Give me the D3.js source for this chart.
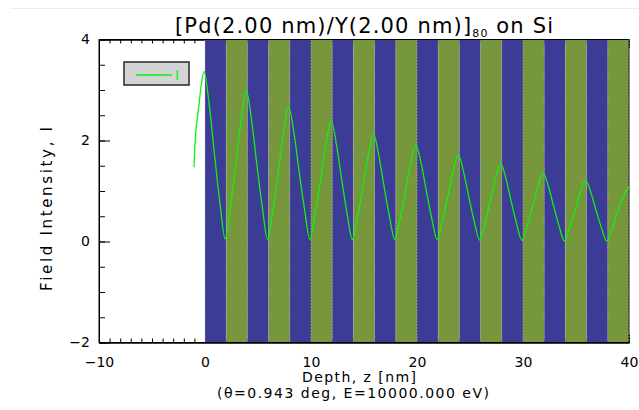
<!DOCTYPE html>
<html>
<head>
<meta charset="utf-8">
<script src="https://cdn.jsdelivr.net/npm/d3@7"></script>
<style>
  body { margin: 0; background: #fff; }
  svg { display: block; font-family: "DejaVu Sans", sans-serif; }
</style>
</head>
<body>
<svg id="chart"></svg>
<script>
var width = 639;
var height = 410;

// layer stack: alternating Pd / Y layers, 2 nm each
var layerNames = ["Pd", "Y"];
var layerThickness = [2.0, 2.0];
var stackDepth = 40;
var layerColor = { "Pd": "#3c3b96", "Y": "#77973c" };

// field intensity
var depthNm = [-1.04, -0.95, -0.6, -0.35, -0.1,
    0.4, 0.9, 1.4, 1.9, 2.4, 2.9, 3.4, 3.9,
    4.4, 4.9, 5.4, 5.9, 6.4, 6.9, 7.4, 7.9,
    8.4, 8.9, 9.4, 9.9, 10.4, 10.9, 11.4, 11.9,
    12.4, 12.9, 13.4, 13.9, 14.4, 14.9, 15.4, 15.9,
    16.4, 16.9, 17.4, 17.9, 18.4, 18.9, 19.4, 19.9,
    20.4, 20.9, 21.4, 21.9, 22.4, 22.9, 23.4, 23.9,
    24.4, 24.9, 25.4, 25.9, 26.4, 26.9, 27.4, 27.9,
    28.4, 28.9, 29.4, 29.9, 30.4, 30.9, 31.4, 31.9,
    32.4, 32.9, 33.4, 33.9, 34.4, 34.9, 35.4, 35.9,
    36.4, 36.9, 37.4, 37.9, 38.4, 38.9, 39.4, 40.0];
var intensity = [1.47, 1.9, 2.65, 3.1, 3.37,
    2.71, 1.71, 0.78, 0.05, 0.69, 1.52, 2.39, 2.98,
    2.39, 1.51, 0.69, 0.04, 0.62, 1.35, 2.14, 2.66,
    2.14, 1.35, 0.62, 0.04, 0.56, 1.22, 1.92, 2.39,
    1.92, 1.22, 0.56, 0.04, 0.50, 1.08, 1.70, 2.12,
    1.70, 1.08, 0.50, 0.04, 0.45, 0.98, 1.54, 1.91,
    1.54, 0.98, 0.45, 0.04, 0.41, 0.88, 1.38, 1.71,
    1.37, 0.87, 0.40, 0.03, 0.36, 0.79, 1.24, 1.54,
    1.24, 0.78, 0.35, 0.02, 0.31, 0.69, 1.09, 1.36,
    1.09, 0.69, 0.31, 0.01, 0.27, 0.61, 0.97, 1.21,
    0.97, 0.61, 0.27, 0.01, 0.25, 0.56, 0.86, 1.08];

var xMajorTicks = [-10, 0, 10, 20, 30, 40];
var yMajorTicks = [-2, 0, 2, 4];
var legendLabels = ["I"];

var margin = { left: 99, right: 10, top: 39.5, bottom: 67.5 };
var x = d3.scaleLinear().domain([-10, 40]).range([margin.left, width - margin.right]);
var y = d3.scaleLinear().domain([-2, 4]).range([height - margin.bottom, margin.top]);

var svg = d3.select("#chart").attr("width", width).attr("height", height);

// faint line at the very top
svg.append("line")
    .attr("x1", 10).attr("x2", width).attr("y1", 8.5).attr("y2", 8.5)
    .style("stroke", "#ececec");

function fmt(d) { return d < 0 ? "\u2212" + Math.abs(d) : d; }

// ticks (inward) - drawn first, the layer fill covers them
var xMinor = d3.range(-10, 41, 1);
var yMinor = d3.range(-2, 4.01, 0.5);

svg.append("g")
    .attr("transform", "translate(0," + y(-2) + ")")
    .call(d3.axisBottom(x).tickValues(xMinor).tickSizeInner(-4).tickSizeOuter(0).tickFormat(""));
svg.append("g")
    .attr("transform", "translate(0," + y(-2) + ")")
    .call(d3.axisBottom(x).tickValues(xMajorTicks).tickSizeInner(-8).tickSizeOuter(0).tickPadding(15)
        .tickFormat(fmt));
svg.append("g")
    .attr("transform", "translate(0," + y(4) + ")")
    .call(d3.axisTop(x).tickValues(xMinor).tickSizeInner(-4).tickSizeOuter(0).tickFormat(""));
svg.append("g")
    .attr("transform", "translate(0," + y(4) + ")")
    .call(d3.axisTop(x).tickValues(xMajorTicks).tickSizeInner(-8).tickSizeOuter(0).tickFormat(""));
svg.append("g")
    .attr("transform", "translate(" + x(-10) + ",0)")
    .call(d3.axisLeft(y).tickValues(yMinor).tickSizeInner(-6).tickSizeOuter(0).tickFormat(""));
svg.append("g")
    .attr("transform", "translate(" + x(-10) + ",0)")
    .call(d3.axisLeft(y).tickValues(yMajorTicks).tickSizeInner(-11).tickSizeOuter(0).tickPadding(9)
        .tickFormat(fmt));

svg.selectAll(".tick text").style("font-size", "14px").style("fill", "#000")
    .style("font-family", "'DejaVu Sans', sans-serif");
svg.selectAll(".domain").style("stroke", "#000");
svg.selectAll(".tick line").style("stroke", "#000");

// layers
var layers = [];
var z = 0, i = 0;
while (z < stackDepth - 1e-9) {
    var name = layerNames[i % layerNames.length];
    var t = layerThickness[i % layerThickness.length];
    layers.push({ name: name, z0: z, z1: Math.min(z + t, stackDepth) });
    z += t;
    i++;
}

svg.append("g").selectAll("rect")
    .data(layers)
    .enter()
    .append("rect")
    .attr("x", function (d) { return x(d.z0); })
    .attr("width", function (d) { return x(d.z1) - x(d.z0); })
    .attr("y", y(4))
    .attr("height", y(-2) - y(4))
    .style("fill", function (d) { return layerColor[d.name]; });

// dotted interface lines
var interfaces = [0].concat(layers.map(function (d) { return d.z1; }));
svg.append("g").selectAll("line")
    .data(interfaces)
    .enter()
    .append("line")
    .attr("x1", function (d) { return x(d); })
    .attr("x2", function (d) { return x(d); })
    .attr("y1", y(4))
    .attr("y2", y(-2))
    .style("stroke", "#b4b4c4")
    .style("stroke-width", 1)
    .style("stroke-dasharray", "1,2");

// frame
svg.append("rect")
    .attr("x", x(-10)).attr("y", y(4))
    .attr("width", x(40) - x(-10)).attr("height", y(-2) - y(4))
    .style("fill", "none").style("stroke", "#000").style("stroke-width", 1);
svg.append("line")
    .attr("x1", x(40)).attr("x2", x(40)).attr("y1", y(4)).attr("y2", y(-2))
    .style("stroke", "#b4b4c4").style("stroke-dasharray", "1,2");

// curve
var pts = depthNm.map(function (d, k) { return [d, intensity[k]]; });
var line = d3.line()
    .x(function (d) { return x(d[0]); })
    .y(function (d) { return y(d[1]); })
    .curve(d3.curveMonotoneX);
svg.append("path")
    .datum(pts)
    .attr("d", line)
    .style("fill", "none")
    .style("stroke", "#12f012")
    .style("stroke-width", 1.3);

// legend
var legend = svg.append("g").attr("transform", "translate(124,62)");
legend.append("rect")
    .attr("width", 65).attr("height", 23)
    .style("fill", "#d4d4d4").style("stroke", "#333").style("stroke-width", 1.6);
legendLabels.forEach(function (lab, k) {
    legend.append("line")
        .attr("x1", 12).attr("x2", 48).attr("y1", 13 + k * 20).attr("y2", 13 + k * 20)
        .style("stroke", "#12f012").style("stroke-width", 1.3);
    legend.append("text")
        .attr("x", 51).attr("y", 18 + k * 20)
        .style("font-size", "14px").style("fill", "#12f012")
        .text(lab);
});

// title
var title = svg.append("text")
    .attr("x", 364).attr("y", 33)
    .attr("text-anchor", "middle")
    .attr("textLength", 378)
    .attr("lengthAdjust", "spacing")
    .style("font-size", "21px");
title.append("tspan").text("[Pd(2.00 nm)/Y(2.00 nm)]");
title.append("tspan").attr("dy", 4).style("font-size", "11px").text("80");
title.append("tspan").attr("dy", -4).text(" on Si");

// axis titles
svg.append("text")
    .attr("x", 359).attr("y", 382)
    .attr("text-anchor", "middle")
    .attr("textLength", 114)
    .attr("lengthAdjust", "spacing")
    .style("font-size", "14px")
    .text("Depth, z [nm]");
svg.append("text")
    .attr("x", 353).attr("y", 398)
    .attr("text-anchor", "middle")
    .attr("textLength", 272)
    .attr("lengthAdjust", "spacing")
    .style("font-size", "14px")
    .text("(\u03b8=0.943 deg, E=10000.000 eV)");
svg.append("text")
    .attr("transform", "translate(52,209) rotate(-90)")
    .attr("text-anchor", "middle")
    .attr("textLength", 164)
    .attr("lengthAdjust", "spacing")
    .style("font-size", "15px")
    .text("Field Intensity, I");
</script>
</body>
</html>
